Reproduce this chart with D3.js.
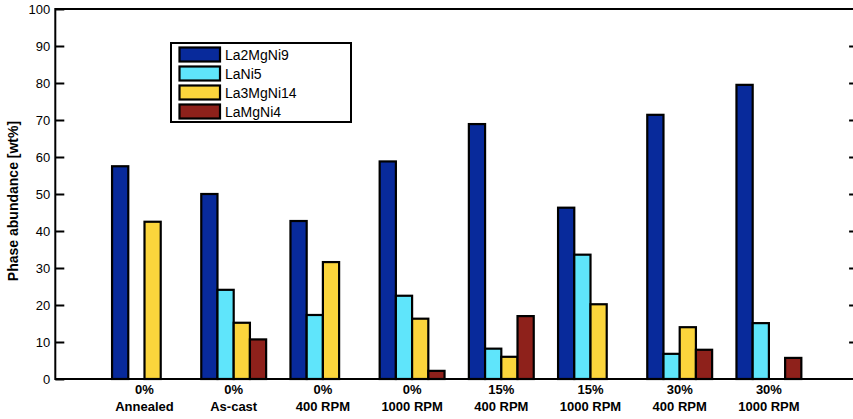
<!DOCTYPE html>
<html>
<head>
<meta charset="utf-8">
<script src="https://cdn.jsdelivr.net/npm/d3@7"></script>
<style>
  html, body { margin: 0; padding: 0; background: #fff; }
  svg { display: block; }
  text { font-family: "Liberation Sans", Arial, Helvetica, sans-serif; fill: #000; }
</style>
</head>
<body>
<svg id="chart" width="853" height="419"></svg>
<script>
// Sample composition (Ni content) and processing condition, one pair per group
const composition = ["0%", "0%", "0%", "0%", "15%", "15%", "30%", "30%"];
const processing = ["Annealed", "As-cast", "400 RPM", "1000 RPM", "400 RPM", "1000 RPM", "400 RPM", "1000 RPM"];

// Phase names and their fills
const phases = ["La2MgNi9", "LaNi5", "La3MgNi14", "LaMgNi4"];
const phaseColors = ["#082a9b", "#5fe5fb", "#fbd53c", "#8e211b"];

// Phase abundance in wt% per group (0 = phase not present)
const la2MgNi9 = [57.5, 50.0, 42.7, 58.8, 68.9, 46.3, 71.4, 79.5];
const laNi5 = [0, 24.1, 17.3, 22.5, 8.2, 33.6, 6.8, 15.1];
const la3MgNi14 = [42.5, 15.2, 31.6, 16.3, 6.0, 20.2, 14.0, 0];
const laMgNi4 = [0, 10.7, 0, 2.2, 17.0, 0, 7.9, 5.7];

const yTicks = [0, 10, 20, 30, 40, 50, 60, 70, 80, 90, 100];

const series = [la2MgNi9, laNi5, la3MgNi14, laMgNi4];

const svg = d3.select("#chart");

const x = d3.scaleLinear().domain([0, 9]).range([55.3, 55.3 + 9 * 89.2]);
const y = d3.scaleLinear().domain([0, 100]).range([379, 9]);

// grouped bar geometry (group spans n/(n+1.5) of a category slot)
const nSeries = series.length;
const groupWidth = nSeries / (nSeries + 1.5);
const barW = groupWidth / nSeries;

const bars = [];
series.forEach((vals, j) => {
  vals.forEach((v, i) => {
    if (v > 0) bars.push({ j, i, v });
  });
});

svg.append("g")
  .selectAll("rect")
  .data(bars)
  .join("rect")
  .attr("x", d => x(d.i + 1 - groupWidth / 2 + d.j * barW))
  .attr("width", d => x(barW) - x(0))
  .attr("y", d => y(d.v))
  .attr("height", d => y(0) - y(d.v))
  .attr("fill", d => phaseColors[d.j])
  .attr("stroke", "#000")
  .attr("stroke-width", 2.2);

// axes box
const axisG = svg.append("g");
const left = d3.axisLeft(y).tickValues(yTicks).tickSizeInner(-9).tickSizeOuter(0).tickPadding(5);
const gl = axisG.append("g").attr("transform", `translate(${x(0)},0)`).call(left);
gl.select(".domain").remove();
gl.selectAll(".tick line").attr("stroke", "#000").attr("stroke-width", 2);
gl.selectAll(".tick text")
  .style("font-family", "'Liberation Sans', Arial, sans-serif")
  .style("font-size", "13px")
  .attr("fill", "#000");

const right = d3.axisRight(y).tickValues(yTicks.slice(1, -1)).tickSizeInner(-9).tickSizeOuter(0).tickFormat("");
const gr = axisG.append("g").attr("transform", `translate(${x(9)},0)`).call(right);
gr.select(".domain").remove();
gr.selectAll(".tick line").attr("stroke", "#000").attr("stroke-width", 2);

axisG.append("rect")
  .attr("x", x(0)).attr("y", y(100))
  .attr("width", x(9) - x(0)).attr("height", y(0) - y(100))
  .attr("fill", "none").attr("stroke", "#000").attr("stroke-width", 2);

// category labels, two lines each
const xl = svg.append("g");
composition.forEach((c, i) => {
  const t = xl.append("text")
    .attr("text-anchor", "middle")
    .style("font-size", "13px")
    .style("font-weight", "bold");
  t.append("tspan").attr("x", x(i + 1)).attr("y", 394).text(c);
  t.append("tspan").attr("x", x(i + 1)).attr("y", 411).text(processing[i]);
});

// y-axis title
svg.append("text")
  .attr("transform", `translate(18,${(y(0) + y(100)) / 2 + 7}) rotate(-90)`)
  .attr("text-anchor", "middle")
  .style("font-size", "14px")
  .style("font-weight", "bold")
  .text("Phase abundance [wt%]");

// legend
const lg = svg.append("g");
lg.append("rect")
  .attr("x", 171).attr("y", 43).attr("width", 180).attr("height", 79)
  .attr("fill", "#fff").attr("stroke", "#000").attr("stroke-width", 2);
phases.forEach((p, k) => {
  const ry = 47.5 + k * 19;
  lg.append("rect")
    .attr("x", 179.5).attr("y", ry).attr("width", 40.5).attr("height", 14)
    .attr("fill", phaseColors[k]).attr("stroke", "#000").attr("stroke-width", 2.2);
  lg.append("text")
    .attr("x", 225).attr("y", ry + 12.5)
    .style("font-size", "14px")
    .text(p);
});
</script>
</body>
</html>
